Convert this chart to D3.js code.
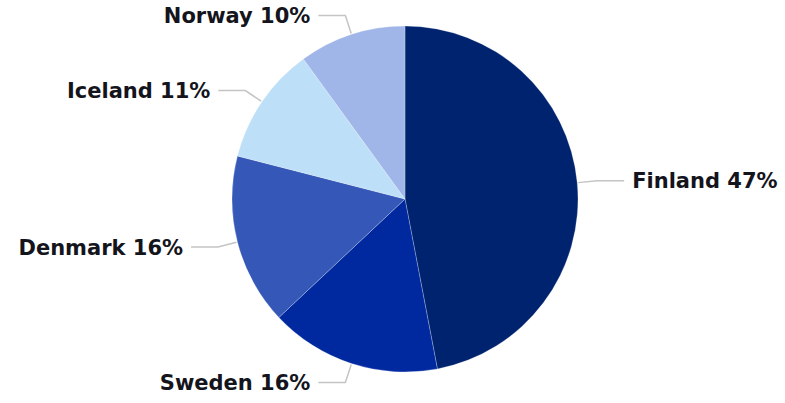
<!DOCTYPE html>
<html>
<head>
<meta charset="utf-8">
<script src="https://cdn.jsdelivr.net/npm/d3@7"></script>
<style>
  body { margin: 0; background: #fff; }
  .label { font-family: "DejaVu Sans", Verdana, sans-serif; font-weight: bold; font-size: 21px; fill: #14141c; }
</style>
</head>
<body>
<div class="chart"></div>
<script>
// Share of total by country

var svgWidth = 785;
var svgHeight = 403;

var countries = ["Finland", "Sweden", "Denmark", "Iceland", "Norway"];
var shares = [47, 16, 16, 11, 10];
var colors = ["#00236f", "#0029a0", "#3457b8", "#bddff7", "#a1b6e8"];

var cx = 405;
var cy = 199;
var radius = 173;

var svg = d3.select(".chart")
  .append("svg")
  .attr("width", svgWidth)
  .attr("height", svgHeight);

var chartGroup = svg.append("g")
  .attr("transform", `translate(${cx}, ${cy})`);

var data = countries.map((c, i) => ({ name: c, value: shares[i], color: colors[i] }));

var pie = d3.pie()
  .sort(null)
  .value(d => d.value);

var arc = d3.arc()
  .innerRadius(0)
  .outerRadius(radius);

var arcs = pie(data);

// slices
chartGroup.selectAll("path.slice")
  .data(arcs)
  .enter()
  .append("path")
  .attr("class", "slice")
  .attr("d", arc)
  .attr("fill", d => d.data.color)
  .attr("stroke", "#ffffff")
  .attr("stroke-opacity", 0.3)
  .attr("stroke-width", 0.8);

// leader lines and labels
function midAngle(d) {
  return (d.startAngle + d.endAngle) / 2;
}

function pointAt(a, r) {
  return [Math.sin(a) * r, -Math.cos(a) * r];
}

var elbowGap = 20;
var hLen = 27;

arcs.forEach(function(d) {
  var a = midAngle(d);
  var p0 = pointAt(a, radius + 1);
  var p1 = pointAt(a, radius + elbowGap);
  var right = Math.sin(a) > 0;
  var p2 = [p1[0] + (right ? hLen : -hLen), p1[1]];

  chartGroup.append("polyline")
    .attr("points", [p0, p1, p2].map(p => p.join(",")).join(" "))
    .attr("fill", "none")
    .attr("stroke", "#c4c4c4")
    .attr("stroke-width", 1.5);

  chartGroup.append("text")
    .attr("class", "label")
    .attr("x", p2[0] + (right ? 8 : -8))
    .attr("y", p2[1])
    .attr("dy", "0.36em")
    .attr("text-anchor", right ? "start" : "end")
    .text(`${d.data.name} ${d.data.value}%`);
});
</script>
</body>
</html>
